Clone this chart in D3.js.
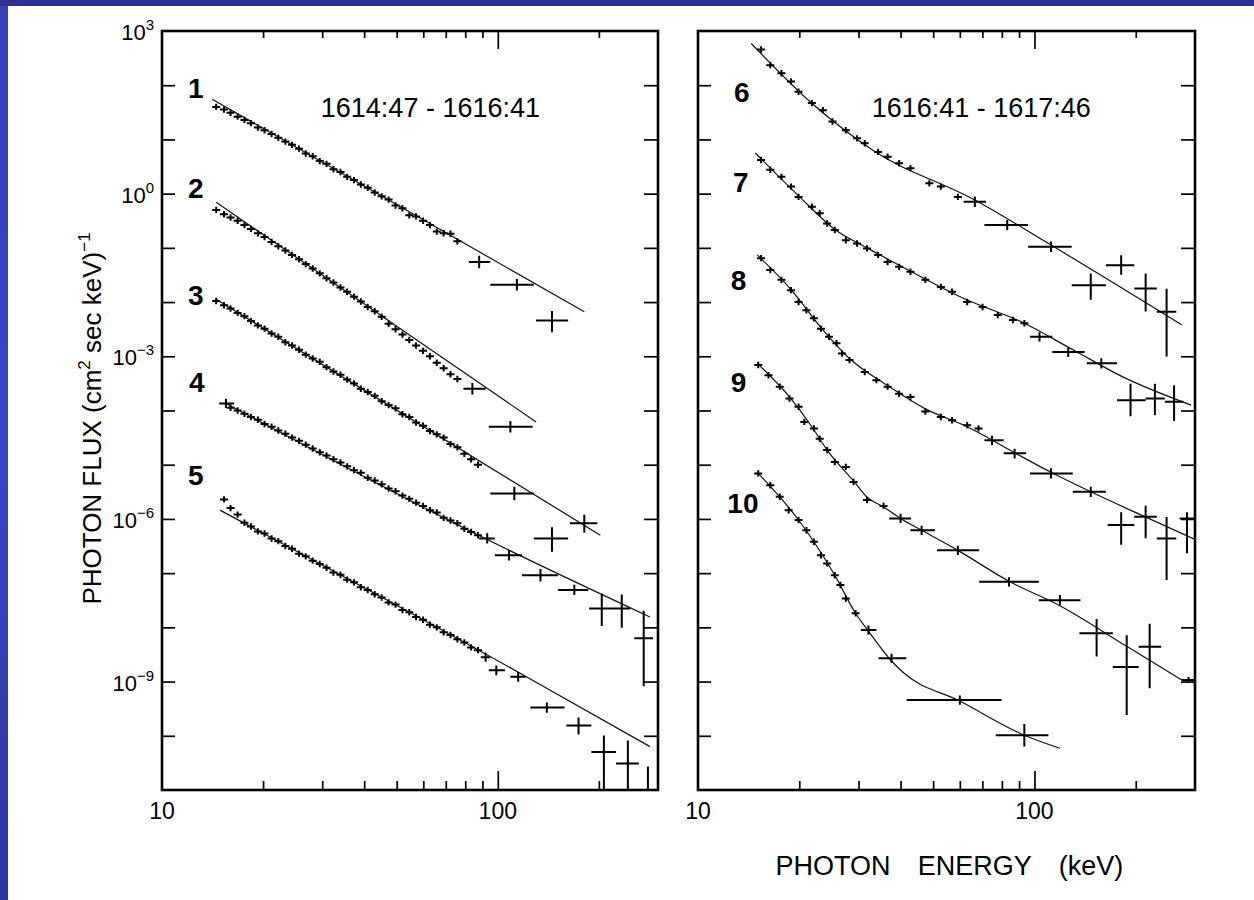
<!DOCTYPE html>
<html><head><meta charset="utf-8">
<script src="https://cdn.jsdelivr.net/npm/d3@7"></script>
<style>html,body{margin:0;padding:0;background:#fff;}svg{display:block}</style>
</head><body>
<svg id="chart" width="1254" height="900"></svg>
<script>
// ---------- DATA (flux values are log10 of photons / (cm^2 s keV)) ----------
const energyDomain = [10, 300];
const fluxDecades = [3, -11];
const yTickLabels = [3, 0, -3, -6, -9];
const xTickLabels = [10, 100];
const minorE = [20, 30, 40, 50, 60, 70, 80, 90, 200];
const majorE = [100];
const timeLabels = ["1614:47 - 1616:41", "1616:41 - 1617:46"];
const axisWords = ["PHOTON", "ENERGY", "(keV)"];

// detector channel energies (keV) used by the dense points of spectra 1-5
const channelsLeft = [14.5,15.3,16.0,16.8,17.6,18.4,19.3,20.2,21.2,22.2,23.3,24.4,25.6,26.8,28.1,29.5,30.9,32.4,34.0,35.6,37.3,39.1,41.0,43.0,45.1,47.3,49.6,52.0,54.5,57.1,59.9,62.8,65.8,69.0,72.3,75.8,79.5,83.3,87.3];

const s1Flux = [1.60,1.55,1.49,1.42,1.36,1.30,1.22,1.17,1.10,1.03,0.96,0.90,0.83,0.74,0.69,0.60,0.55,0.45,0.40,0.31,0.25,0.17,0.11,0.02,-0.05,-0.11,-0.22,-0.27,-0.40,-0.42,-0.50,-0.58,-0.70,-0.73,-0.74,-0.88,null,null,null];
const s2Flux = [-0.30,-0.38,-0.44,-0.50,-0.58,-0.65,-0.73,-0.80,-0.89,-0.97,-1.05,-1.13,-1.21,-1.30,-1.38,-1.47,-1.56,-1.64,-1.73,-1.81,-1.90,-1.99,-2.09,-2.17,-2.27,-2.40,-2.50,-2.60,-2.70,-2.80,-2.90,-3.00,-3.12,-3.22,-3.33,-3.42,null,null,null];
const s3Flux = [-1.98,-2.06,-2.12,-2.20,-2.26,-2.35,-2.43,-2.49,-2.58,-2.64,-2.74,-2.80,-2.88,-2.97,-3.04,-3.10,-3.20,-3.28,-3.34,-3.43,-3.50,-3.60,-3.66,-3.73,-3.83,-3.90,-3.96,-4.07,-4.12,-4.22,-4.28,-4.38,-4.44,-4.50,-4.62,-4.68,-4.80,-4.90,-5.00];
const s4Flux = [null,null,-3.95,-4.00,-4.06,-4.12,-4.17,-4.25,-4.30,-4.37,-4.43,-4.50,-4.56,-4.63,-4.70,-4.77,-4.83,-4.90,-4.96,-5.03,-5.10,-5.15,-5.24,-5.29,-5.36,-5.44,-5.49,-5.57,-5.63,-5.70,-5.76,-5.84,-5.88,-5.98,-6.03,-6.08,-6.18,-6.24,-6.30];
const s5Flux = [null,-5.64,-5.80,-5.92,-6.07,-6.14,-6.23,-6.27,-6.36,-6.41,-6.50,-6.55,-6.64,-6.69,-6.77,-6.83,-6.90,-6.99,-7.03,-7.12,-7.17,-7.26,-7.31,-7.39,-7.45,-7.54,-7.58,-7.68,-7.72,-7.81,-7.86,-7.95,-8.00,-8.09,-8.14,-8.22,-8.28,-8.37,-8.42];

// wide bins: [E, flux, Elow, Ehigh, fluxHigh, fluxLow]
const s1Bins = [[88,-1.26,82,95,-1.20,-1.32],[114,-1.68,95,128,-1.63,-1.73],[145,-2.34,130,162,-2.22,-2.50]];
const s2Bins = [[84,-3.60,79,92,-3.55,-3.65],[109,-4.30,94,127,-4.25,-4.35]];
const s3Bins = [[112,-5.53,95,128,-5.46,-5.60],[145,-6.36,128,162,-6.21,-6.55],[181,-6.08,164,198,-5.98,-6.20]];
const s4Bins = [[15.5,-3.87,14.8,16.4,-3.84,-3.90],[93,-6.36,88,98,-6.32,-6.40],[108,-6.67,98,118,-6.63,-6.71],[134,-7.04,118,151,-6.98,-7.10],[169,-7.31,151,186,-7.27,-7.35],[204,-7.65,187,220,-7.43,-7.92],[234,-7.65,220,248,-7.45,-7.95],[272,-8.20,255,290,-7.75,-9.03]];
const s5Bins = [[92,-8.55,89,95,-8.52,-8.58],[99,-8.79,94,105,-8.76,-8.83],[115,-8.91,109,121,-8.88,-8.95],[140,-9.48,125,158,-9.44,-9.52],[174,-9.81,160,190,-9.72,-9.92],[207,-10.30,190,225,-10.05,-11.6],[244,-10.51,225,263,-10.14,-11.6],[280,-11.4,280,280,-10.62,-11.6]];

// fitted model curves: [E, flux]
const fit1 = [[14.1,1.742],[46.9,-0.104],[181,-2.18]];
const fit2 = [[14.5,-0.16],[130,-4.21]];
const fit3 = [[14.5,-1.95],[202,-6.30]];
const fit4 = [[15.5,-3.87],[98,-6.45],[284,-7.81]];
const fit5 = [[14.9,-5.84],[121.6,-8.91],[284,-10.20]];

// right panel dense points: [E, flux]
const s6Pts = [[15.4,2.66],[16.4,2.37],[17.7,2.22],[18.9,2.07],[19.9,1.88],[21.8,1.67],[23.5,1.54],[25.1,1.33],[27.5,1.17],[29.7,1.02],[31.3,0.93],[34.3,0.77],[36.6,0.68],[39.6,0.56],[42.8,0.47],[48.7,0.19],[52.7,0.13],[59.2,-0.06]];
const s7Pts = [[15.4,0.62],[16.4,0.44],[17.7,0.31],[18.9,0.13],[19.9,-0.06],[21.8,-0.24],[23.0,-0.36],[24.2,-0.55],[25.5,-0.67],[27.5,-0.86],[29.7,-0.92],[31.8,-1.01],[34.3,-1.13],[36.6,-1.26],[39.6,-1.35],[42.8,-1.44],[47.4,-1.59],[52.7,-1.72],[56.9,-1.81],[63.1,-2.00],[70.1,-2.09],[77.8,-2.24],[86.3,-2.33],[93.3,-2.39]];
const s8Pts = [[15.4,-1.19],[16.4,-1.41],[17.7,-1.59],[18.9,-1.78],[19.9,-2.00],[21.0,-2.15],[22.1,-2.30],[23.2,-2.49],[24.5,-2.64],[25.8,-2.76],[26.8,-2.95],[28.2,-3.07],[31.3,-3.29],[33.9,-3.44],[36.6,-3.56],[39.6,-3.69],[42.8,-3.75],[47.4,-4.02],[52.7,-4.12],[56.9,-4.18],[63.1,-4.27],[68.2,-4.33]];
const s9Pts = [[15.1,-3.16],[16.2,-3.35],[17.5,-3.56],[18.7,-3.78],[19.9,-3.93],[20.7,-4.21],[22.1,-4.33],[23.0,-4.52],[24.2,-4.73],[25.5,-4.95],[27.5,-5.04],[29.0,-5.32],[31.8,-5.65],[35.6,-5.76]];
const s10Pts = [[15.1,-5.16],[16.4,-5.38],[17.5,-5.59],[18.6,-5.84],[19.9,-6.02],[21.0,-6.21],[22.1,-6.42],[23.2,-6.67],[24.2,-6.82],[25.5,-7.04],[26.5,-7.22],[27.5,-7.47],[29.4,-7.74]];

const s6Bins = [[66.5,-0.15,61.6,71.8,-0.11,-0.19],[83,-0.58,71,95.7,-0.54,-0.62],[112,-0.98,95.7,129,-0.94,-1.02],[147,-1.69,129,163,-1.53,-1.90],[181,-1.32,163,198,-1.19,-1.44],[214,-1.75,198,231,-1.53,-2.12],[247,-2.18,231,264,-1.81,-2.95]];
const s7Bins = [[103.5,-2.64,97,113,-2.61,-2.67],[126,-2.92,113,141,-2.88,-2.96],[158,-3.13,143,176,-3.09,-3.17],[193,-3.81,176,214,-3.56,-4.05],[228,-3.78,214,244,-3.56,-4.03],[260,-3.84,244,277,-3.59,-4.14]];
const s8Bins = [[74.8,-4.55,71,81,-4.52,-4.58],[87.3,-4.79,81,94.5,-4.76,-4.83],[112,-5.16,97,130,-5.12,-5.20],[147,-5.50,130,163,-5.46,-5.54],[181,-6.11,165,198,-5.93,-6.42],[214,-5.96,198,231,-5.81,-6.30],[247,-6.36,231,264,-6.02,-7.07],[284,-5.99,270,300,-5.93,-6.58]];
const s9Bins = [[40,-5.99,37,43,-5.96,-6.02],[46.2,-6.21,42.8,50.6,-6.18,-6.24],[59.2,-6.58,51.3,68.5,-6.55,-6.61],[84,-7.16,68.5,103,-7.13,-7.19],[119,-7.50,103,137,-7.46,-7.54],[153,-8.11,136,171,-7.90,-8.48],[188,-8.73,171,204,-8.20,-9.56],[220,-8.36,204,238,-7.99,-9.07],[287,-8.97,274,300,-8.97,-8.97]];
const s10Bins = [[32.1,-8.05,30.5,33.9,-8.02,-8.08],[37.6,-8.57,34.4,41.6,-8.54,-8.60],[60,-9.34,41.7,79.8,-9.31,-9.37],[93.3,-9.99,76.7,110,-9.84,-10.14]];

const fit6 = [[14.4,2.77],[21.8,1.666],[33,0.804],[66.5,-0.118],[112,-0.948],[274,-2.42]];
const fit7 = [[14.8,0.75],[19.9,-0.04],[25.5,-0.66],[31.8,-1.0],[42.8,-1.43],[61.5,-1.93],[93.3,-2.39],[131,-2.89],[183,-3.38],[292,-3.90]];
const fit8 = [[15,-1.13],[18.9,-1.77],[23.2,-2.47],[28.2,-3.04],[36.6,-3.54],[47.4,-3.97],[63.1,-4.30],[87.3,-4.78],[112,-5.14],[147,-5.50],[208,-5.93],[300,-6.38]];
const fit9 = [[15,-3.13],[18.7,-3.75],[21.8,-4.30],[24.2,-4.73],[29.0,-5.30],[31.8,-5.60],[35.6,-5.78],[40,-5.99],[46.2,-6.21],[59.2,-6.58],[84,-7.15],[119,-7.60],[188,-8.35],[274,-8.97]];
const fit10 = [[15.1,-5.16],[19.9,-6.02],[25.5,-7.04],[29.4,-7.74],[32.1,-8.07],[37.6,-8.62],[40.5,-8.82],[60,-9.36],[93.3,-9.99],[119,-10.23]];

// spectrum number labels: [text, E, flux]
const labelsLeft = [["1",12.6,1.95],["2",12.6,0.10],["3",12.6,-1.87],["4",12.7,-3.48],["5",12.6,-5.19]];
const labelsRight = [["6",13.5,1.88],["7",13.4,0.21],["8",13.2,-1.59],["9",13.2,-3.48],["10",13.6,-5.70]];
const titleAnchors = [[63,1.60],[69.5,1.60]];

// ---------- DRAWING ----------
const W = 1254, H = 900;
const svg = d3.select('#chart');
const defs = svg.append('defs');
const grad = defs.append('linearGradient').attr('id','lg').attr('x1',0).attr('y1',0).attr('x2',0).attr('y2',1);
grad.append('stop').attr('offset','0%').attr('stop-color','#3541b8');
grad.append('stop').attr('offset','50%').attr('stop-color','#3a48c6');
grad.append('stop').attr('offset','100%').attr('stop-color','#2d35a0');
svg.append('rect').attr('width',W).attr('height',H).attr('fill','#fff');
svg.append('rect').attr('x',0).attr('y',0).attr('width',8).attr('height',H).attr('fill','url(#lg)');
svg.append('rect').attr('x',0).attr('y',0).attr('width',W).attr('height',6).attr('fill','#2e3192');

const FONT = "'Liberation Sans', Arial, sans-serif";
const yTop = 31, yBot = 790;
const y = d3.scaleLog().domain(fluxDecades.map(d => Math.pow(10, d)).reverse()).range([yBot, yTop]);
const fy = v => y(Math.pow(10, v));
const decadeTicks = d3.range(fluxDecades[1], fluxDecades[0] + 1).map(d => Math.pow(10, d));

const leftSpectra = [
  {pts: channelsLeft.map((e,i)=>[e,s1Flux[i]]), bins: s1Bins, fit: fit1},
  {pts: channelsLeft.map((e,i)=>[e,s2Flux[i]]), bins: s2Bins, fit: fit2},
  {pts: channelsLeft.map((e,i)=>[e,s3Flux[i]]), bins: s3Bins, fit: fit3},
  {pts: channelsLeft.map((e,i)=>[e,s4Flux[i]]), bins: s4Bins, fit: fit4},
  {pts: channelsLeft.map((e,i)=>[e,s5Flux[i]]), bins: s5Bins, fit: fit5}
];
const rightSpectra = [
  {pts: s6Pts, bins: s6Bins, fit: fit6},
  {pts: s7Pts, bins: s7Bins, fit: fit7},
  {pts: s8Pts, bins: s8Bins, fit: fit8},
  {pts: s9Pts, bins: s9Bins, fit: fit9},
  {pts: s10Pts, bins: s10Bins, fit: fit10}
];

let xRight;
function drawPanel(id, x0, x1, spectra, labels, title, titleAt, showYLabels) {
  const x = d3.scaleLog().domain(energyDomain).range([x0, x1]);
  const g = svg.append('g');
  defs.append('clipPath').attr('id', 'clip' + id)
    .append('rect').attr('x', x0).attr('y', yTop).attr('width', x1 - x0).attr('height', yBot - yTop);

  const styleAxis = sel => { sel.select('.domain').remove(); sel.selectAll('line').attr('stroke','#000').attr('stroke-width',1.7); sel.selectAll('text').remove(); };
  g.append('g').attr('transform',`translate(0,${yBot})`).call(d3.axisBottom(x).tickValues(minorE).tickSize(-9)).call(styleAxis);
  g.append('g').attr('transform',`translate(0,${yBot})`).call(d3.axisBottom(x).tickValues(majorE).tickSize(-19)).call(styleAxis);
  g.append('g').attr('transform',`translate(0,${yTop})`).call(d3.axisTop(x).tickValues(minorE).tickSize(-7)).call(styleAxis);
  g.append('g').attr('transform',`translate(0,${yTop})`).call(d3.axisTop(x).tickValues(majorE).tickSize(-18)).call(styleAxis);
  g.append('g').attr('transform',`translate(${x0},0)`).call(d3.axisLeft(y).tickValues(decadeTicks.slice(1,-1)).tickSize(-13)).call(styleAxis);
  g.append('g').attr('transform',`translate(${x1},0)`).call(d3.axisRight(y).tickValues(decadeTicks.slice(1,-1)).tickSize(-14)).call(styleAxis);

  g.append('rect').attr('x', x0).attr('y', yTop).attr('width', x1 - x0).attr('height', yBot - yTop)
    .attr('fill', 'none').attr('stroke', '#000').attr('stroke-width', 2.6);

  g.selectAll('.xl').data(xTickLabels).enter().append('text')
    .attr('x', d => x(d)).attr('y', yBot + 29).attr('text-anchor', 'middle')
    .attr('font-family', FONT).attr('font-size', 23).text(d => d);

  if (showYLabels) {
    const t = g.selectAll('.yl').data(yTickLabels).enter().append('text')
      .attr('x', x0 - 8).attr('y', d => fy(d) + 9).attr('text-anchor', 'end')
      .attr('font-family', FONT).attr('font-size', 22);
    t.append('tspan').text('10');
    t.append('tspan').attr('dy', -10).attr('font-size', 15).text(d => d < 0 ? '\u2212' + (-d) : d);
  }

  const c = g.append('g').attr('clip-path', `url(#clip${id})`);
  const line = d3.line().x(d => x(d[0])).y(d => fy(d[1])).curve(d3.curveMonotoneX);
  spectra.forEach(s => {
    c.append('path').attr('d', line(s.fit)).attr('fill', 'none').attr('stroke', '#111').attr('stroke-width', 1.2);
    const pts = s.pts.filter(d => d[1] !== null);
    c.append('path').attr('d', pts.map(d => {
      const px = x(d[0]), py = fy(d[1]);
      return `M${px-4},${py}H${px+4}M${px},${py-3.2}V${py+3.2}`;
    }).join('')).attr('stroke', '#000').attr('stroke-width', 2).attr('fill', 'none');
    c.append('path').attr('d', s.bins.map(d => {
      const px = x(d[0]), py = fy(d[1]);
      return `M${x(d[2])},${py}H${x(d[3])}M${px},${fy(d[4]) - 3}V${fy(d[5]) + 3}`;
    }).join('')).attr('stroke', '#000').attr('stroke-width', 2).attr('fill', 'none');
  });

  g.selectAll('.num').data(labels).enter().append('text')
    .attr('x', d => x(d[1])).attr('y', d => fy(d[2]) + 10).attr('text-anchor', 'middle')
    .attr('font-family', FONT).attr('font-weight', 'bold').attr('font-size', 28).text(d => d[0]);

  g.append('text').attr('x', x(titleAt[0])).attr('y', fy(titleAt[1]) + 10).attr('text-anchor', 'middle')
    .attr('font-family', FONT).attr('font-size', 27).text(title);
  return x;
}

drawPanel(1, 162, 658, leftSpectra, labelsLeft, timeLabels[0], titleAnchors[0], true);
xRight = drawPanel(2, 698, 1195, rightSpectra, labelsRight, timeLabels[1], titleAnchors[1], false);

// y axis title
const yt = svg.append('text').attr('transform', `translate(101,${(yTop + yBot) / 2 + 8}) rotate(-90)`)
  .attr('text-anchor', 'middle').attr('font-family', FONT).attr('font-size', 26);
yt.append('tspan').text('PHOTON FLUX (cm');
yt.append('tspan').attr('dy', -11).attr('font-size', 17).text('2');
yt.append('tspan').attr('dy', 11).text(' sec keV)');
yt.append('tspan').attr('dy', -11).attr('font-size', 17).text('\u22121');

// x axis title (word starts tied to the right-panel energy scale)
const wordE = [17.0, 45.0, 118];
svg.selectAll('.xt').data(axisWords).enter().append('text')
  .attr('x', (d, i) => xRight(wordE[i])).attr('y', 875)
  .attr('font-family', FONT).attr('font-size', 27).text(d => d);
</script>
</body></html>
